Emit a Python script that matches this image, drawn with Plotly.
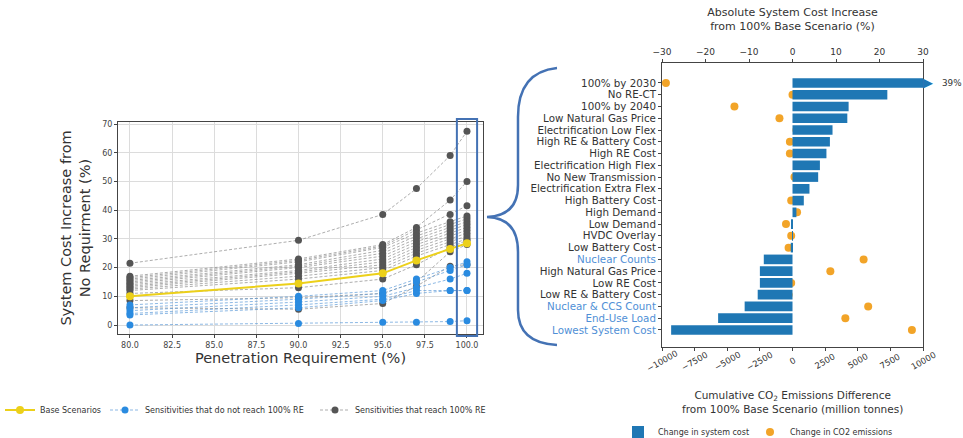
import plotly.graph_objects as go

W, H = 963, 438
FONT = "DejaVu Sans"

# ---------------- Left chart data ----------------
pen_x = [80, 90, 95, 97, 99, 100]
base_vals = [10, 14.5, 18, 22.5, 26.5, 28.5]
reach_vals = [
    [21.5, 29.5, 38.5, 47.5, 59, 67.5],
    [17, 23, 28, 34, 43.5, 50],
    [16.5, 22.5, 27.5, 33, 38.5, 41.5],
    [16, 22, 27, 32, 36, 38],
    [15.5, 21, 26, 31, 35, 37],
    [15, 20.5, 25, 30, 34, 36],
    [14.5, 20, 24, 29, 33, 35],
    [14, 19, 23, 28, 32, 34],
    [13.5, 18.5, 22, 27, 31, 33],
    [13, 18, 21, 26, 30, 32],
    [12.5, 17, 20, 25, 29, 31],
    [12, 16, 19, 24, 28, 30],
    [11, 13, 16, 21, 27, 29.5],
    [8.5, 9.5, 11, 15, 25.5, 28],
    [6, 5.5, 7.5, 13.5, 20.5, 21],
]
noreach_vals = [
    [7, 10, 12, 16, 20, 22],
    [6, 9, 11, 15, 19, 21],
    [5, 8, 10, 13, 16, 18],
    [4, 7, 9, 12, 12, 12],
    [3.5, 6, 8.5, 11, 12, 12],
    [0, 0.5, 1, 1, 1.2, 1.5],
]
left_xticks = [80, 82.5, 85, 87.5, 90, 92.5, 95, 97.5, 100]
left_yticks = [0, 10, 20, 30, 40, 50, 60, 70]

# ---------------- Right chart data ----------------
categories = [
    "100% by 2030", "No RE-CT", "100% by 2040", "Low Natural Gas Price",
    "Electrification Low Flex", "High RE & Battery Cost", "High RE Cost",
    "Electrification High Flex", "No New Transmission", "Electrification Extra Flex",
    "High Battery Cost", "High Demand", "Low Demand", "HVDC Overlay",
    "Low Battery Cost", "Nuclear Counts", "High Natural Gas Price", "Low RE Cost",
    "Low RE & Battery Cost", "Nuclear & CCS Count", "End-Use Load", "Lowest System Cost",
]
cost_pct = [39, 21.8, 12.9, 12.6, 9.2, 8.6, 7.8, 6.3, 5.9, 3.9, 2.6, 0.9,
            -0.2, -0.1, -0.4, -6.6, -7.5, -7.5, -8.0, -11.0, -17.1, -27.9]
co2_diff = [-9700, 0, -4450, -1000, 300, -200, -200, 400, 150, 450, -100, 350,
            -500, -100, -300, 5450, 2900, -100, -300, 5800, 4050, 9150]
highlight_cats = ["Nuclear Counts", "Nuclear & CCS Count", "End-Use Load", "Lowest System Cost"]
cost_ticks = [-30, -20, -10, 0, 10, 20, 30]
co2_ticks = [-10000, -7500, -5000, -2500, 0, 2500, 5000, 7500, 10000]

COST_MAX = 30
CO2_MAX = 10000
YELLOW = "#ecd01a"
BLUE_PT = "#2a8be0"
GRAY_PT = "#555555"
BAR_BLUE = "#1f77b4"
ORANGE = "#f2a428"
FRAME = "#4472b4"

R_DOM = [662 / W, 923 / W]


def px(x, y):
    return x / W, 1 - y / H


def cost_to_paper(v):
    return R_DOM[0] + (v + COST_MAX) / (2 * COST_MAX) * (R_DOM[1] - R_DOM[0])


fig = go.Figure()

# gray lines
for i, vals in enumerate(reach_vals):
    fig.add_trace(go.Scatter(
        x=pen_x, y=vals, mode="lines+markers", xaxis="x", yaxis="y",
        line=dict(color="#8a8a8a", width=0.7, dash="3px,2px"),
        marker=dict(color=GRAY_PT, size=7),
        name="Sensitivities that reach 100% RE", legend="legend3",
        showlegend=(i == 0), hoverinfo="skip"))
for i, vals in enumerate(noreach_vals):
    fig.add_trace(go.Scatter(
        x=pen_x, y=vals, mode="lines+markers", xaxis="x", yaxis="y",
        line=dict(color="#5a9ad8", width=0.7, dash="3px,2px"),
        marker=dict(color=BLUE_PT, size=7),
        name="Sensitivities that do not reach 100% RE", legend="legend2",
        showlegend=(i == 0), hoverinfo="skip"))
fig.add_trace(go.Scatter(
    x=pen_x, y=base_vals, mode="lines+markers", xaxis="x", yaxis="y",
    line=dict(color=YELLOW, width=2),
    marker=dict(color=YELLOW, size=8),
    name="Base Scenarios", legend="legend", hoverinfo="skip"))

# right: bars (top axis) and CO2 dots (bottom axis)
fig.add_trace(go.Bar(
    x=cost_pct, y=categories, orientation="h", xaxis="x3", yaxis="y2",
    marker=dict(color=BAR_BLUE, line=dict(width=0)), width=0.82,
    name="Change in system cost", legend="legend4", hoverinfo="skip"))
fig.add_trace(go.Scatter(
    x=co2_diff, y=categories, mode="markers", xaxis="x2", yaxis="y2",
    marker=dict(color=ORANGE, size=8),
    name="Change in CO2 emissions", legend="legend5", cliponaxis=False,
    hoverinfo="skip"))

# arrow + label for bars beyond the cost axis range
for c, v in zip(categories, cost_pct):
    if v > COST_MAX:
        fig.add_annotation(x=cost_to_paper(COST_MAX + 1.2), xref="paper", y=c, yref="y2",
                           text="\u25B6", showarrow=False, xanchor="center",
                           yanchor="middle", font=dict(size=13, color=BAR_BLUE))
        fig.add_annotation(x=cost_to_paper(COST_MAX + 3.9), xref="paper", y=c, yref="y2",
                           text="%d%%" % v, showarrow=False, xanchor="left",
                           yanchor="middle", font=dict(size=8.8, color="#333"))

ticktext = [("<span style='color:#4f8fd6'>%s</span>" % c) if c in highlight_cats else c
            for c in categories]

axis_common = dict(showline=True, linecolor="#444", linewidth=1, ticks="outside",
                   ticklen=3, tickcolor="#444", zeroline=False, automargin=False)

fig.update_layout(
    width=W, height=H, margin=dict(l=0, r=0, t=0, b=0, autoexpand=False),
    plot_bgcolor="white", paper_bgcolor="white",
    font=dict(family=FONT, color="#333"),
    xaxis=dict(domain=[118 / W, 483 / W], range=[79.29, 100.95], mirror=True,
               tickvals=left_xticks, ticktext=["%.1f" % t for t in left_xticks],
               tickfont=dict(size=8, color="#444"), showgrid=True,
               gridcolor="#dcdcdc", gridwidth=1,
               title=dict(text="Penetration Requirement (%)", font=dict(size=14.5),
                          standoff=4),
               anchor="y", **axis_common),
    yaxis=dict(domain=[1 - 334 / H, 1 - 122 / H], range=[-3.13, 70.7], mirror=True,
               tickvals=left_yticks, tickfont=dict(size=8, color="#444"),
               showgrid=True, gridcolor="#dcdcdc", gridwidth=1,
               title=dict(text="System Cost Increase from<br>No Requirment (%)",
                          font=dict(size=14.5), standoff=8),
               anchor="x", **axis_common),
    xaxis2=dict(domain=R_DOM, range=[-CO2_MAX, CO2_MAX], anchor="y2",
                side="bottom", mirror=True, tickvals=co2_ticks, showticklabels=False,
                showgrid=False, **axis_common),
    xaxis3=dict(range=[-COST_MAX, COST_MAX], overlaying="x2", anchor="y2", side="top",
                tickvals=cost_ticks,
                ticktext=[str(t).replace("-", "\u2212") for t in cost_ticks],
                tickfont=dict(size=9, color="#333"), showgrid=False,
                title=dict(text="Absolute System Cost Increase<br>from 100% Base Scenario (%)",
                           font=dict(size=11), standoff=14),
                **axis_common),
    yaxis2=dict(domain=[1 - 347 / H, 1 - 63 / H], anchor="x2", type="category",
                categoryorder="array", categoryarray=categories,
                range=[22.45, -1.70], tickvals=categories, ticktext=ticktext,
                tickfont=dict(size=10.3, color="#333"), showgrid=False, mirror=True,
                **axis_common),
    bargap=0.18,
    showlegend=True,
)

leg = dict(orientation="h", yanchor="middle", xanchor="left", bgcolor="rgba(0,0,0,0)",
           font=dict(size=8, color="#333"), borderwidth=0)
fig.update_layout(
    legend=dict(x=0.0, y=1 - 410 / H, **leg),
    legend2=dict(x=105 / W, y=1 - 410 / H, **leg),
    legend3=dict(x=315 / W, y=1 - 410 / H, **leg),
    legend4=dict(x=618 / W, y=1 - 432 / H, **leg),
    legend5=dict(x=750 / W, y=1 - 432 / H, **leg),
)

# rotated bottom tick labels of the CO2 axis
for t in co2_ticks:
    fig.add_annotation(x=t, xref="x2", y=1 - 361 / H, yref="paper",
                       text=str(t).replace("-", "\u2212"), showarrow=False,
                       textangle=-30, font=dict(size=8.5, color="#333"),
                       xanchor="center", yanchor="middle")
fig.add_annotation(x=792 / W, xref="paper", y=1 - 402 / H, yref="paper",
                   text="Cumulative CO<sub>2</sub> Emissions Difference<br>from 100% Base Scenario (million tonnes)",
                   showarrow=False, font=dict(size=10.5, color="#333"),
                   xanchor="center", yanchor="middle")

# highlight box around 100% on the left chart
fig.add_shape(type="rect", xref="x", x0=99.4, x1=100.6, yref="paper",
              y0=1 - 336 / H, y1=1 - 119 / H, line=dict(color=FRAME, width=2))

# brace connecting the charts
pts = [(557, 68), (518, 72), (518, 117), (518, 185), (518, 216), (487, 217),
       (518, 218), (518, 252), (518, 310), (518, 343), (557, 345)]
P = [px(*p) for p in pts]
path = ("M %f,%f Q %f,%f %f,%f L %f,%f Q %f,%f %f,%f Q %f,%f %f,%f L %f,%f Q %f,%f %f,%f" % (
    P[0][0], P[0][1], P[1][0], P[1][1], P[2][0], P[2][1], P[3][0], P[3][1],
    P[4][0], P[4][1], P[5][0], P[5][1], P[6][0], P[6][1], P[7][0], P[7][1],
    P[8][0], P[8][1], P[9][0], P[9][1], P[10][0], P[10][1]))
fig.add_shape(type="path", xref="paper", yref="paper", path=path,
              line=dict(color=FRAME, width=2.5))

fig.write_html("out.html", config={"displayModeBar": False},
               post_script="document.body.style.margin='0';")
